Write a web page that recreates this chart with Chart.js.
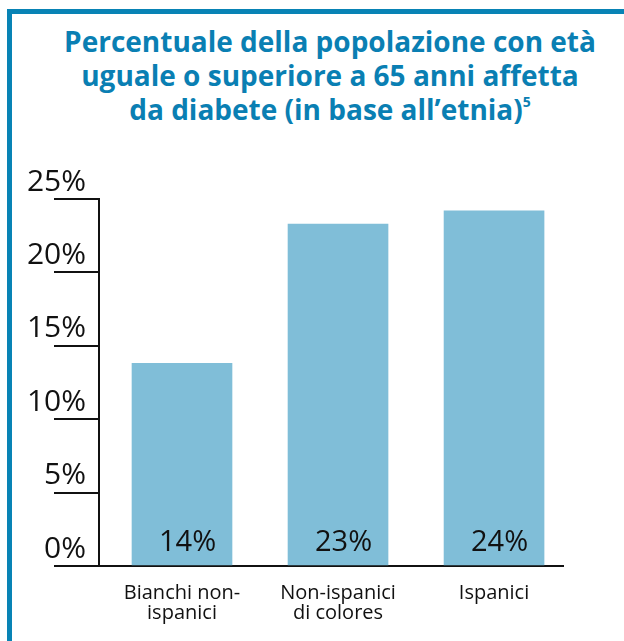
<!DOCTYPE html>
<html lang="it">
<head>
    <meta charset="UTF-8">
    <title>Diabete per etnia</title>
    <script src="https://cdn.jsdelivr.net/npm/chart.js"></script>
    <style>
        body { margin: 0; width: 624px; height: 641px; overflow: hidden; background: #fff; position: relative; }
        .cornice { position: absolute; left: 7px; top: 9px; right: 0; bottom: 0; border-left: 5px solid #0883b5; border-top: 5px solid #0883b5; }
        h1 { position: absolute; top: 24px; left: 36px; right: 0; margin: 0; text-align: center;
             font-family: "Open Sans", sans-serif; font-weight: bold; font-size: 28px; line-height: 34px; color: #0a7fb3; }
        h1 sup { font-size: 14px; line-height: 0; vertical-align: 13px; }
        #graficoDiabete { position: absolute; left: 0; top: 140px; }
    </style>
</head>
<body>
    <div class="cornice"></div>
    <h1>Percentuale della popolazione con età<br>uguale o superiore a 65 anni affetta<br>da diabete (in base all’etnia)<sup>5</sup></h1>
    <canvas id="graficoDiabete" width="624" height="501"></canvas>

    <script>
        // dati
        var categorie = [['Bianchi non-', 'ispanici'], ['Non-ispanici', 'di colores'], ['Ispanici']];
        var valori = [13.8, 23.3, 24.2];
        var etichetteValori = ['14%', '23%', '24%'];
        var tickY = [0, 5, 10, 15, 20, 25];

        var nero = '#111';
        var fontTesto = 'Open Sans';

        // scritte percentuali in fondo alle barre
        var etichetteBarre = {
            id: 'etichetteBarre',
            afterDatasetsDraw: function (chart) {
                var ctx = chart.ctx;
                ctx.save();
                ctx.font = '29px "' + fontTesto + '"';
                ctx.fillStyle = nero;
                ctx.textAlign = 'left';
                ctx.textBaseline = 'alphabetic';
                chart.getDatasetMeta(0).data.forEach(function (barra, i) {
                    ctx.fillText(etichetteValori[i], barra.x - 23, barra.base - 14);
                });
                ctx.restore();
            }
        };

        var punti = valori.map(function (v, i) { return { x: i, y: v }; });

        var config = {
            type: 'bar',
            data: {
                datasets: [{
                    data: punti,
                    backgroundColor: '#80bed8',
                    borderWidth: 0,
                    barThickness: 100
                }]
            },
            options: {
                responsive: false,
                animation: false,
                layout: { padding: { top: 59, right: 61, bottom: 0, left: 0 } },
                plugins: {
                    legend: { display: false },
                    tooltip: { enabled: false }
                },
                scales: {
                    x: {
                        type: 'linear',
                        offset: false,
                        min: -0.532,
                        max: 2.442,
                        grid: { display: false, drawTicks: false, offset: false },
                        border: { display: true, color: nero, width: 2 },
                        afterBuildTicks: function (scale) {
                            scale.ticks = categorie.map(function (c, i) { return { value: i }; });
                        },
                        afterFit: function (scale) { scale.height = 75; },
                        ticks: {
                            autoSkip: false,
                            maxRotation: 0,
                            padding: 18,
                            color: nero,
                            font: { family: fontTesto, size: 20, lineHeight: 0.97 },
                            callback: function (v) { return categorie[v]; }
                        }
                    },
                    y: {
                        min: 0,
                        max: 25,
                        afterBuildTicks: function (scale) {
                            scale.ticks = tickY.map(function (v) { return { value: v }; });
                        },
                        afterFit: function (scale) { scale.width = 99; },
                        grid: { drawOnChartArea: false, drawTicks: true, tickLength: 45, color: nero, lineWidth: 2 },
                        border: { display: true, color: nero, width: 2 },
                        ticks: {
                            padding: -32,
                            labelOffset: -17,
                            color: nero,
                            font: { family: fontTesto, size: 30 },
                            callback: function (v) { return v + '%'; }
                        }
                    }
                }
            },
            plugins: [etichetteBarre]
        };

        var ctx = document.getElementById('graficoDiabete').getContext('2d');
        var grafico = new Chart(ctx, config);
    </script>
</body>
</html>
